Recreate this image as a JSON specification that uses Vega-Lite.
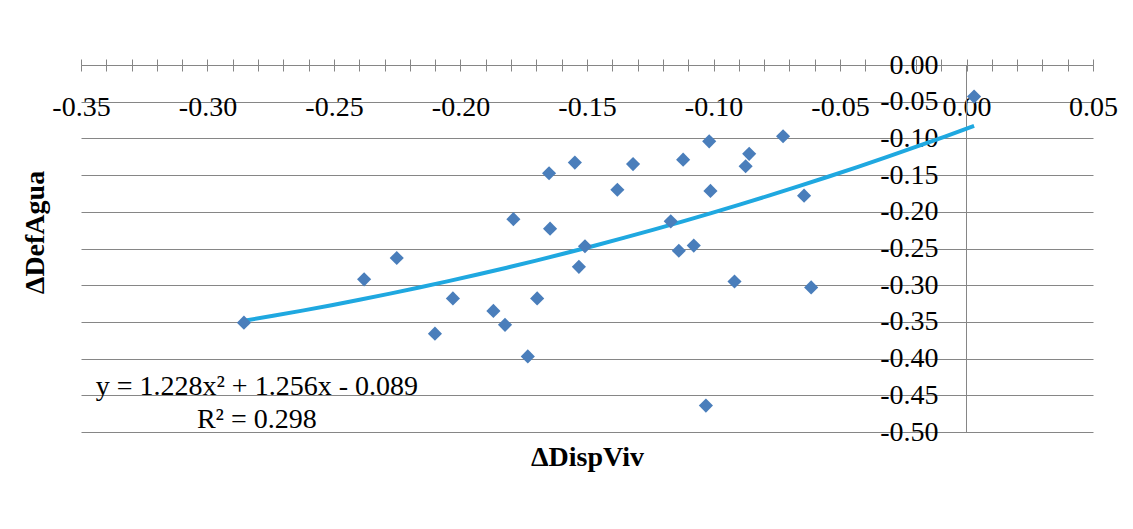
{
  "$schema": "https://vega.github.io/schema/vega-lite/v6.json",
  "width": 1012,
  "height": 367,
  "autosize": "none",
  "padding": {"left": 81, "top": 65, "right": 40, "bottom": 97},
  "background": "white",
  "config": {
    "view": {"stroke": null},
    "locale": {"number": {"decimal": ".", "thousands": ",", "grouping": [3], "currency": ["$", ""], "minus": "-"}},
    "axis": {
      "labelFont": "Liberation Serif",
      "titleFont": "Liberation Serif",
      "labelColor": "#000000",
      "titleColor": "#000000",
      "domainColor": "#868686",
      "tickColor": "#868686",
      "gridColor": "#868686",
      "labelFontSize": 28,
      "titleFontSize": 28,
      "titleFontWeight": "bold",
      "labelFlush": false,
      "labelOverlap": false
    }
  },
  "datasets": {
    "pts": [
      {"x": 0.003, "y": -0.043},
      {"x": -0.0725, "y": -0.097},
      {"x": -0.1017, "y": -0.104},
      {"x": -0.0859, "y": -0.121},
      {"x": -0.0873, "y": -0.138},
      {"x": -0.112, "y": -0.129},
      {"x": -0.1318, "y": -0.135},
      {"x": -0.1548, "y": -0.133},
      {"x": -0.138, "y": -0.17},
      {"x": -0.1012, "y": -0.1715},
      {"x": -0.0642, "y": -0.178},
      {"x": -0.1169, "y": -0.213},
      {"x": -0.1508, "y": -0.247},
      {"x": -0.1532, "y": -0.275},
      {"x": -0.1137, "y": -0.253},
      {"x": -0.1078, "y": -0.246},
      {"x": -0.0917, "y": -0.295},
      {"x": -0.0614, "y": -0.303},
      {"x": -0.103, "y": -0.464},
      {"x": -0.165, "y": -0.1475},
      {"x": -0.1791, "y": -0.21},
      {"x": -0.1646, "y": -0.223},
      {"x": -0.2252, "y": -0.263},
      {"x": -0.2381, "y": -0.292},
      {"x": -0.203, "y": -0.318},
      {"x": -0.1697, "y": -0.318},
      {"x": -0.187, "y": -0.335},
      {"x": -0.1824, "y": -0.354},
      {"x": -0.2101, "y": -0.366},
      {"x": -0.1734, "y": -0.397},
      {"x": -0.2856, "y": -0.351}
    ],
    "eq1": [{"label": "y = 1.228x² + 1.256x - 0.089", "x": -0.2805, "y": -0.4492}],
    "eq2": [{"label": "R² = 0.298", "x": -0.2805, "y": -0.4941}]
  },
  "resolve": {"axis": {"x": "independent", "y": "independent"}},
  "layer": [
    {
      "data": {"name": "pts"},
      "transform": [{"regression": "y", "on": "x", "method": "poly", "order": 2}],
      "mark": {"type": "line", "color": "#1FA8E0", "strokeWidth": 4},
      "encoding": {
        "x": {"field": "x", "type": "quantitative",
          "scale": {"domain": [-0.35, 0.05], "nice": false, "zero": false},
          "axis": {"orient": "top", "domain": false, "labels": false, "grid": false, "ticks": true, "tickSize": -6,
            "values": [-0.35,-0.34,-0.33,-0.32,-0.31,-0.3,-0.29,-0.28,-0.27,-0.26,-0.25,-0.24,-0.23,-0.22,-0.21,-0.2,-0.19,-0.18,-0.17,-0.16,-0.15,-0.14,-0.13,-0.12,-0.11,-0.1,-0.09,-0.08,-0.07,-0.06,-0.05,-0.04,-0.03,-0.02,-0.01,0,0.01,0.02,0.03,0.04,0.05],
            "title": null}},
        "y": {"field": "y", "type": "quantitative",
          "scale": {"domain": [-0.5, 0], "nice": false, "zero": false},
          "axis": {"orient": "left", "domain": false, "labels": false, "ticks": false, "grid": true,
            "values": [-0.5,-0.45,-0.4,-0.35,-0.3,-0.25,-0.2,-0.15,-0.1,-0.05,0],
            "title": "ΔDefAgua", "titlePadding": 32, "titleY": 167}}
      }
    },
    {
      "data": {"name": "pts"},
      "mark": {"type": "point", "shape": "diamond", "filled": true, "size": 200, "color": "#4A7EBB", "opacity": 1},
      "encoding": {
        "x": {"field": "x", "type": "quantitative",
          "axis": {"orient": "top", "domain": true, "labels": false, "grid": false, "ticks": true, "tickSize": 6,
            "values": [-0.35,-0.34,-0.33,-0.32,-0.31,-0.3,-0.29,-0.28,-0.27,-0.26,-0.25,-0.24,-0.23,-0.22,-0.21,-0.2,-0.19,-0.18,-0.17,-0.16,-0.15,-0.14,-0.13,-0.12,-0.11,-0.1,-0.09,-0.08,-0.07,-0.06,-0.05,-0.04,-0.03,-0.02,-0.01,0,0.01,0.02,0.03,0.04,0.05],
            "title": null}},
        "y": {"field": "y", "type": "quantitative",
          "axis": {"orient": "left", "offset": -885, "domain": true, "ticks": false, "grid": false,
            "labels": true, "labelPadding": 28, "format": ".2f",
            "values": [-0.5,-0.45,-0.4,-0.35,-0.3,-0.25,-0.2,-0.15,-0.1,-0.05,0],
            "title": null}}
      }
    },
    {
      "data": {"name": "eq1"},
      "mark": {"type": "text", "font": "Liberation Serif", "fontSize": 28, "align": "center", "baseline": "alphabetic", "color": "#000000"},
      "encoding": {
        "x": {"field": "x", "type": "quantitative",
          "axis": {"orient": "bottom", "offset": -325, "domain": false, "ticks": false, "tickSize": 0, "grid": false,
            "labels": true, "labelPadding": 0, "labelBaseline": "middle", "format": ".2f",
            "values": [-0.35,-0.3,-0.25,-0.2,-0.15,-0.1,-0.05,0,0.05],
            "title": null}},
        "y": {"field": "y", "type": "quantitative", "axis": null},
        "text": {"field": "label"}
      }
    },
    {
      "data": {"name": "eq2"},
      "mark": {"type": "text", "font": "Liberation Serif", "fontSize": 28, "align": "center", "baseline": "alphabetic", "color": "#000000"},
      "encoding": {
        "x": {"field": "x", "type": "quantitative",
          "axis": {"orient": "bottom", "domain": false, "ticks": false, "labels": false, "grid": false,
            "title": "ΔDispViv", "titlePadding": 11}},
        "y": {"field": "y", "type": "quantitative", "axis": null},
        "text": {"field": "label"}
      }
    }
  ]
}
